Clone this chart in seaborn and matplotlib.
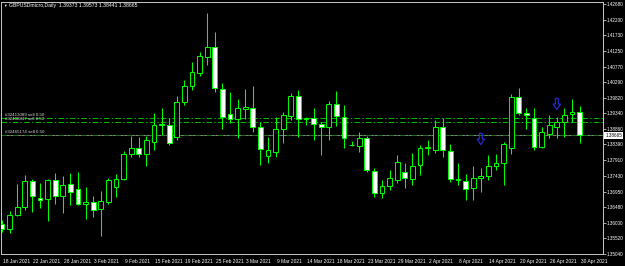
import numpy as np
import pandas as pd
import matplotlib
matplotlib.use("Agg")
import matplotlib.pyplot as plt
from matplotlib.path import Path
from matplotlib import transforms
import seaborn as sns

# ---------------- data ----------------
symbol_title = "GBPUSDmicro,Daily"
header_ohlc = ["1.39373", "1.39573", "1.38441", "1.38665"]

opens = [1.35957, 1.35804, 1.36232, 1.36476, 1.37271, 1.36751, 1.36721, 1.37301, 1.36812, 1.37179,
         1.37026, 1.36568, 1.36629, 1.36415, 1.36629, 1.37088, 1.37332, 1.38096, 1.38279, 1.38096,
         1.38463, 1.38982, 1.38982, 1.38616, 1.39685, 1.40174, 1.40571, 1.41060, 1.41366, 1.40082,
         1.39318, 1.39166, 1.39471, 1.39502, 1.38921, 1.38035, 1.38157, 1.38860, 1.39257, 1.39868,
         1.39166, 1.39196, 1.39013, 1.38921, 1.39624, 1.39227, 1.38371, 1.38340, 1.38585, 1.37576,
         1.36904, 1.37118, 1.37301, 1.37546, 1.37332, 1.37760, 1.38279, 1.38218, 1.38921, 1.38188,
         1.37301, 1.37271, 1.37057, 1.37363, 1.37424, 1.37729, 1.37821, 1.38279, 1.39838, 1.39349,
         1.39196, 1.38310, 1.38707, 1.38921, 1.39074, 1.39318, 1.39373]
highs = [1.36079, 1.36354, 1.37179, 1.37454, 1.37332, 1.37210, 1.37332, 1.37515, 1.37424, 1.37515,
         1.37546, 1.37088, 1.36812, 1.36965, 1.37363, 1.37485, 1.38188, 1.38646, 1.38616, 1.38646,
         1.39349, 1.39502, 1.39196, 1.39868, 1.40357, 1.40907, 1.41213, 1.42405, 1.41824, 1.40266,
         1.39991, 1.39777, 1.40082, 1.40174, 1.39074, 1.38616, 1.39227, 1.39380, 1.39960, 1.40052,
         1.39227, 1.39502, 1.39074, 1.39716, 1.40021, 1.39593, 1.38493, 1.38768, 1.38646, 1.37668,
         1.37301, 1.37607, 1.38065, 1.37821, 1.38127, 1.38371, 1.38524, 1.39135, 1.39196, 1.38402,
         1.37821, 1.37485, 1.37729, 1.37668, 1.38065, 1.38096, 1.38463, 1.39930, 1.40113, 1.39502,
         1.39502, 1.38921, 1.39288, 1.39227, 1.39502, 1.39777, 1.39573]
lows = [1.35712, 1.35682, 1.36201, 1.36385, 1.36324, 1.36446, 1.36048, 1.36568, 1.36293, 1.36537,
        1.36537, 1.36110, 1.36171, 1.35590, 1.36568, 1.36782, 1.37301, 1.38004, 1.38004, 1.37729,
        1.38218, 1.38677, 1.38371, 1.38524, 1.39593, 1.40052, 1.40480, 1.40816, 1.39991, 1.38860,
        1.39043, 1.38585, 1.39166, 1.38768, 1.37760, 1.37821, 1.38004, 1.38432, 1.39135, 1.38616,
        1.38982, 1.38524, 1.38065, 1.38524, 1.38952, 1.38279, 1.38340, 1.38157, 1.37546, 1.36782,
        1.36751, 1.36996, 1.37210, 1.37057, 1.37149, 1.37454, 1.38065, 1.38127, 1.38004, 1.37240,
        1.37149, 1.36690, 1.36690, 1.36935, 1.37301, 1.37607, 1.37149, 1.38096, 1.39288, 1.38860,
        1.38218, 1.38279, 1.38585, 1.38585, 1.38616, 1.39074, 1.38441]
closes = [1.35804, 1.36232, 1.36476, 1.37271, 1.36812, 1.36690, 1.37301, 1.36812, 1.37149, 1.36935,
          1.36568, 1.36629, 1.36385, 1.36660, 1.37301, 1.37332, 1.38096, 1.38279, 1.38096, 1.38524,
          1.38982, 1.39013, 1.38432, 1.39685, 1.40174, 1.40602, 1.41091, 1.41366, 1.40113, 1.39227,
          1.39166, 1.39502, 1.39532, 1.38921, 1.38249, 1.38218, 1.38860, 1.39288, 1.39868, 1.39166,
          1.39196, 1.39013, 1.38921, 1.39624, 1.39257, 1.38585, 1.38386, 1.38585, 1.37607, 1.36904,
          1.37118, 1.37363, 1.37852, 1.37363, 1.37729, 1.38279, 1.38295, 1.38921, 1.38218, 1.37332,
          1.37317, 1.37026, 1.37363, 1.37424, 1.37729, 1.37821, 1.38402, 1.39838, 1.39349, 1.39288,
          1.38310, 1.38768, 1.38982, 1.39074, 1.39288, 1.39380, 1.38665]

date_labels = ["18 Jan 2021", "22 Jan 2021", "28 Jan 2021", "3 Feb 2021", "9 Feb 2021",
               "15 Feb 2021", "19 Feb 2021", "25 Feb 2021", "3 Mar 2021", "9 Mar 2021",
               "14 Mar 2021", "18 Mar 2021", "23 Mar 2021", "29 Mar 2021", "2 Apr 2021",
               "8 Apr 2021", "14 Apr 2021", "20 Apr 2021", "26 Apr 2021", "30 Apr 2021"]
date_label_step = 4

price_ticks = [1.42680, 1.42200, 1.41730, 1.41250, 1.40770, 1.40290, 1.39820, 1.39340, 1.38860,
               1.38390, 1.37910, 1.37430, 1.36950, 1.36480, 1.36000, 1.35520, 1.35040]

bid_price = 1.38665
order_prices = [1.39196, 1.39074, 1.38677]
order_labels = ["#32413089 sell 0.50", "#32408847 sell 0.50", "#32465174 sell 0.50"]
arrow_bars = [63, 73]
arrow_prices = [1.38554, 1.39624]

# ---------------- style ----------------
W, H = 625, 266
sns.set_theme(style="dark", rc={
    "figure.facecolor": "black", "axes.facecolor": "black", "axes.edgecolor": "#c8c8c8",
    "axes.grid": False, "axes.linewidth": 0.7, "lines.scale_dashes": False,
    "xtick.color": "#c8c8c8", "ytick.color": "#c8c8c8",
})
plt.rcParams["font.family"] = ["Liberation Sans", "DejaVu Sans"]

LIME = "#00ff00"
FSX = 3.5
FSY = 3.3

df = pd.DataFrame({"open": opens, "high": highs, "low": lows, "close": closes})
df["bar"] = np.arange(len(df))
df["bull"] = df["close"] >= df["open"]
df["bottom"] = df[["open", "close"]].min(axis=1)
df["height"] = (df["close"] - df["open"]).abs().clip(lower=0.00004)

fig = plt.figure(figsize=(W / 100, H / 100), dpi=100)
left_px, right_px, top_px, bottom_px = 1, 603, 2, 254
ax = fig.add_axes([left_px / W, (H - bottom_px) / H, (right_px - left_px) / W, (bottom_px - top_px) / H])

px_per_bar = 7.6
x0 = (left_px - 2) / px_per_bar
x1 = (right_px - 2) / px_per_bar
ax.set_xlim(x0, x1)
ppp = (1.42680 - 1.35040) / 250.0
ax.set_ylim(1.35040, 1.42680 + 2 * ppp)

# horizontal lines (behind candles)
ax.axhline(bid_price, color="#8a8a8a", lw=0.7, zorder=1)
for p in order_prices[:2]:
    ax.axhline(p, color="#00b400", lw=0.75, linestyle=(0, (4, 1.6, 1.0, 1.6)), zorder=1.2)
ax.axhline(order_prices[2], color="#1f6e1f", lw=0.75, linestyle=(0, (4, 1.6, 1.0, 1.6)), zorder=1.4)

# candles
ax.vlines(df["bar"], df["low"], df["high"], color=LIME, lw=0.75, zorder=2)
ax.bar(df["bar"], df["height"], bottom=df["bottom"], width=0.64,
       color=np.where(df["bull"], "black", "white"), edgecolor=LIME, linewidth=0.7, zorder=3)

# trade arrows (outlined down arrows)
arrow_verts = [(-0.13, 0.5), (0.13, 0.5), (0.13, 0.0), (0.33, 0.0), (0.0, -0.5),
               (-0.33, 0.0), (-0.13, 0.0), (-0.13, 0.5)]
arrow_codes = [Path.MOVETO] + [Path.LINETO] * 6 + [Path.CLOSEPOLY]
arrow_marker = Path(arrow_verts, arrow_codes)
ax.scatter(arrow_bars, arrow_prices, marker=arrow_marker, s=66, facecolors="none",
           edgecolors="#2a2ae6", linewidths=0.8, zorder=4)

# order labels
lbl_offsets = [1.2 * ppp, 0.9 * ppp, 0.9 * ppp]
for p, t, off in zip(order_prices, order_labels, lbl_offsets):
    ax.text(0.35, p + off, t, color="#d8d8d8", fontsize=3.2, va="bottom", ha="left", zorder=5)

# axes ticks
ax.yaxis.tick_right()
ax.set_yticks(price_ticks)
ax.set_yticklabels([f"{v:.5f}" for v in price_ticks])
ax.tick_params(axis="y", length=2, width=0.6, pad=1.0, labelsize=FSY, labelcolor="white")
xt = list(range(0, len(df), date_label_step))
ax.set_xticks(xt)
ax.set_xticklabels(date_labels, ha="left")
ax.tick_params(axis="x", length=2.2, width=0.6, pad=1.2, labelsize=FSX, labelcolor="white")
for lbl in ax.get_xticklabels():
    lbl.set_transform(lbl.get_transform() + transforms.ScaledTranslation(1 / 100, 0, fig.dpi_scale_trans))
for s in ax.spines.values():
    s.set_color("#c8c8c8")
    s.set_linewidth(0.7)

# bid price box on right axis
trans = transforms.blended_transform_factory(ax.transAxes, ax.transData)
ax.text(1.004, bid_price, f"{bid_price:.5f}", transform=trans, color="black", fontsize=FSY,
        ha="left", va="center", clip_on=False, zorder=6,
        bbox=dict(boxstyle="square,pad=0.25", fc="white", ec="white", lw=0))

# header
fig.text(3.5 / W, 1 - 6 / H, "\u25BC", color="white", fontsize=2.6, va="center", ha="left")
fig.text(9 / W, 1 - 6 / H, symbol_title + "  " + " ".join(header_ohlc), color="white",
         fontsize=3.7, va="center", ha="left")

fig.savefig("out.png", dpi=100, facecolor="black")
